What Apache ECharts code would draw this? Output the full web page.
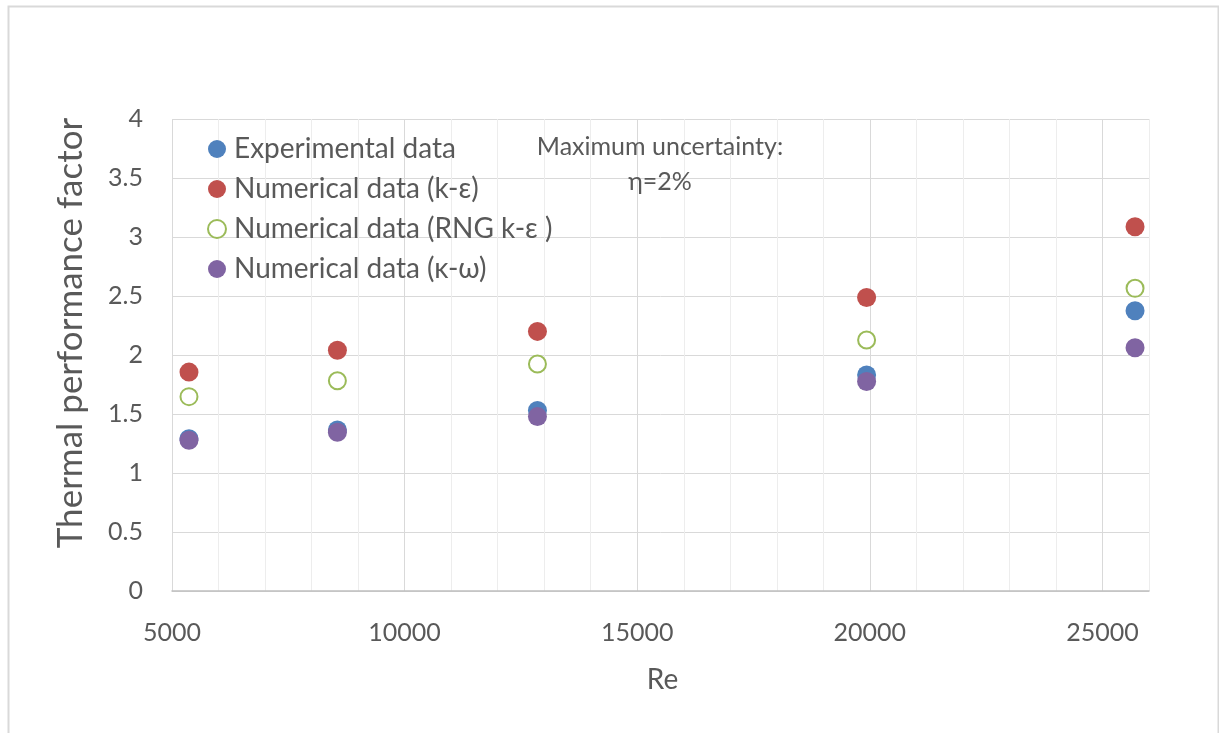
<!DOCTYPE html>
<html>
<head>
<meta charset="utf-8">
<script src="https://cdn.jsdelivr.net/npm/echarts@6/dist/echarts.min.js"></script>
<style>
html,body{margin:0;padding:0;background:#fff;}
#chart{width:1219px;height:733px;}
</style>
</head>
<body>
<div id="chart"></div>
<script>
const reynolds = [5365, 8555, 12855, 19930, 25700];
const experimental = [1.29, 1.365, 1.53, 1.83, 2.375];
const kEpsilon = [1.855, 2.04, 2.2, 2.487, 3.087];
const rngKEpsilon = [1.647, 1.782, 1.924, 2.127, 2.565];
const kOmega = [1.277, 1.345, 1.478, 1.775, 2.062];
const seriesNames = ['Experimental data', 'Numerical data (k-ε)', 'Numerical data (RNG k-ε )', 'Numerical data (κ-ω)'];
const annotationLines = ['Maximum uncertainty:', 'η=2%'];
const xTitle = 'Re';
const yTitle = 'Thermal performance factor';

const FONT = 'Lato, "Open Sans", sans-serif';
const TXT = '#595959';
const pairs = arr => reynolds.map((r, i) => [r, arr[i]]);

const chart = echarts.init(document.getElementById('chart'));
chart.setOption({
  backgroundColor: '#fff',
  animation: false,
  textStyle: { fontFamily: FONT },
  grid: { left: 172, right: 70, top: 119, bottom: 142, containLabel: false },
  legend: {
    orient: 'vertical',
    left: 202,
    top: 130,
    itemWidth: 24,
    itemHeight: 18,
    itemGap: 12,
    textStyle: { fontFamily: FONT, fontSize: 28, color: TXT, lineHeight: 27 },
    data: seriesNames
  },
  xAxis: {
    type: 'value',
    min: 5000,
    max: 26000,
    interval: 1000,
    name: xTitle,
    nameLocation: 'middle',
    nameGap: 75,
    nameTextStyle: { fontFamily: FONT, fontSize: 28, color: TXT, padding: [0, 0, 0, 4] },
    axisLine: { show: true, lineStyle: { color: '#bfbfbf', width: 1.5 } },
    axisTick: { show: false },
    axisLabel: {
      margin: 29,
      fontFamily: FONT, fontSize: 25, color: TXT,
      showMaxLabel: false,
      formatter: v => (v % 5000 === 0 ? String(v) : '')
    },
    splitLine: { show: true, lineStyle: { color: ['#d9d9d9', '#ededed', '#ededed', '#ededed', '#ededed'], width: 1 } }
  },
  yAxis: {
    type: 'value',
    min: 0,
    max: 4,
    interval: 0.5,
    name: yTitle,
    nameLocation: 'middle',
    nameRotate: 90,
    nameGap: 84,
    nameTextStyle: { fontFamily: FONT, fontSize: 35, color: TXT, padding: [0, 0, 0, 44] },
    axisLine: { show: false },
    axisTick: { show: false },
    axisLabel: { margin: 29, fontFamily: FONT, fontSize: 25, color: TXT },
    splitLine: { show: true, lineStyle: { color: '#d9d9d9', width: 1 } }
  },
  series: [
    { name: seriesNames[0], type: 'scatter', data: pairs(experimental), symbol: 'circle', symbolSize: 19,
      itemStyle: { color: '#4F81BD', opacity: 1 }, z: 2 },
    { name: seriesNames[1], type: 'scatter', data: pairs(kEpsilon), symbol: 'circle', symbolSize: 19,
      itemStyle: { color: '#C0504D', opacity: 1 }, z: 3 },
    { name: seriesNames[2], type: 'scatter', data: pairs(rngKEpsilon), symbol: 'emptyCircle', symbolSize: 17,
      itemStyle: { color: '#9BBB59', borderColor: '#9BBB59', borderWidth: 3.5, opacity: 1 }, z: 4 },
    { name: seriesNames[3], type: 'scatter', data: pairs(kOmega), symbol: 'circle', symbolSize: 19,
      itemStyle: { color: '#8064A2', opacity: 1 }, z: 5 }
  ],
  graphic: [
    { type: 'rect', left: 6, top: 4, z: -10, silent: true,
      shape: { width: 1210, height: 760 },
      style: { fill: 'none', stroke: '#d9d9d9', lineWidth: 2 } },
    { type: 'text', x: 660, y: 147, z: 10, silent: true,
      style: { text: annotationLines[0], fontFamily: FONT, fontSize: 25, fill: TXT, textAlign: 'center', textVerticalAlign: 'middle' } },
    { type: 'text', x: 660, y: 182, z: 10, silent: true,
      style: { text: annotationLines[1], fontFamily: FONT, fontSize: 25, fill: TXT, textAlign: 'center', textVerticalAlign: 'middle' } }
  ]
});
</script>
</body>
</html>
